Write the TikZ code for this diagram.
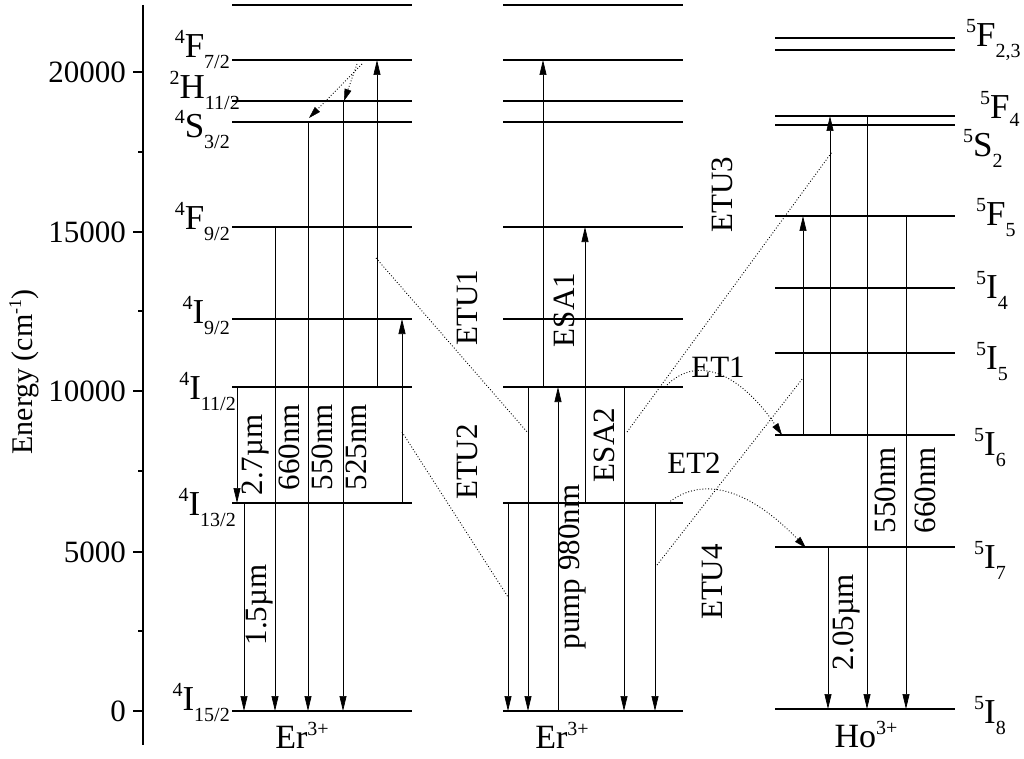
\documentclass[tikz,border=0pt]{standalone}
\usepackage{fontspec}
\setmainfont{Liberation Serif}
\usetikzlibrary{arrows.meta}
\newcommand{\lvl}[3]{{\fontsize{20}{20}\selectfont\raisebox{14pt}{#1}}#2{\fontsize{20}{20}\selectfont\raisebox{-11pt}{#3}}}
\newcommand{\ionl}[2]{{\fontsize{34}{34}\selectfont #1}{\fontsize{20}{20}\selectfont\raisebox{13pt}{#2}}}
\begin{document}
\begin{tikzpicture}[x=1pt,y=-1pt,
  lev/.style={line width=1.3pt},
  tr/.style={line width=0.7pt,-{Triangle[length=15pt,width=7pt]}},
  dt/.style={line width=0.9pt,dotted},
  dta/.style={dt,-{Triangle[length=12pt,width=7pt,line width=0.5pt,fill=black]}},
  lab/.style={font=\fontsize{31}{31}\selectfont,inner sep=0pt},
  rl/.style={lab,rotate=90},
  nm/.style={font=\fontsize{35}{35}\selectfont,inner sep=0pt}]
\useasboundingbox (0,0) rectangle (1024,759);
% axis
\draw[line width=1.3pt] (143,5) -- (143,745);
\foreach \y/\t in {711/0,552/5000,391/10000,232/15000,72/20000}{
  \draw[line width=1.3pt] (133,\y) -- (143,\y);
  \node[lab,anchor=east] at (126,\y) {\t};}
\foreach \y in {631,471,311,152} \draw[line width=1.3pt] (138,\y) -- (143,\y);
\node[lab,rotate=90,font=\fontsize{30}{30}\selectfont] (ax) at (24,372) {Energy (cm\raisebox{11pt}{\fontsize{18}{18}\selectfont -1})};
% levels
\foreach \y in {5,60,101,122,227,319,387,503,711}{
  \draw[lev] (232,\y) -- (412,\y);
  \draw[lev] (503,\y) -- (683,\y);}
\foreach \y in {38,50,116,125,216,288,353,435,547,709}
  \draw[lev] (775,\y) -- (955,\y);
% left labels
\node[nm,anchor=east] at (230,50) {\lvl{4}{F}{7/2}};
\node[nm,anchor=east] at (240,90) {\lvl{2}{H}{11/2}};
\node[nm,anchor=east] at (230,130) {\lvl{4}{S}{3/2}};
\node[nm,anchor=east] at (230,222) {\lvl{4}{F}{9/2}};
\node[nm,anchor=east] at (230,316) {\lvl{4}{I}{9/2}};
\node[nm,anchor=east] at (236,392) {\lvl{4}{I}{11/2}};
\node[nm,anchor=east] at (236,508) {\lvl{4}{I}{13/2}};
\node[nm,anchor=east] at (230,703) {\lvl{4}{I}{15/2}};
% Ho labels
\node[nm,anchor=west] at (966,40) {\lvl{5}{F}{2,3}};
\node[nm,anchor=west] at (980,110) {\lvl{5}{F}{\raisebox{3pt}{4}}};
\node[nm,anchor=west] at (963,148) {\lvl{5}{S}{2}};
\node[nm,anchor=west] at (976,218) {\lvl{5}{F}{5}};
\node[nm,anchor=west] at (976,290) {\lvl{5}{I}{4}};
\node[nm,anchor=west] at (976,362) {\lvl{5}{I}{5}};
\node[nm,anchor=west] at (974,448) {\lvl{5}{I}{6}};
\node[nm,anchor=west] at (974,560) {\lvl{5}{I}{7}};
\node[nm,anchor=west] at (974,716) {\lvl{5}{I}{8}};
% ion labels
\node[inner sep=0pt] (er1) at (302,735) {\ionl{Er}{3+}};
\node[inner sep=0pt] (er2) at (562,735) {\ionl{Er}{3+}};
\node[inner sep=0pt] (ho) at (866,735) {\ionl{Ho}{3+}};
% left transitions
\draw[tr] (237,387) -- (237,503);
\draw[tr] (244,503) -- (244,711);
\draw[tr] (275,227) -- (275,711);
\draw[tr] (308,122) -- (308,711);
\draw[tr] (343,101) -- (343,711);
\draw[tr] (377,387) -- (377,60);
\draw[tr] (402,503) -- (402,319);
\draw[dta] (362,64) -- (309,118);
\draw[dta] (357,64) -- (344,101);
\node[rl] at (256,455) {2.7µm};
\node[rl] at (289,447) {660nm};
\node[rl] at (322,447) {550nm};
\node[rl] at (356,447) {525nm};
\node[rl] at (260,605) {1.5µm};
% middle transitions
\draw[tr] (508,503) -- (508,711);
\draw[tr] (528,387) -- (528,711);
\draw[tr] (558,711) -- (558,387);
\draw[tr] (543,387) -- (543,60);
\draw[tr] (585,503) -- (585,227);
\draw[tr] (624,387) -- (624,711);
\draw[tr] (655,503) -- (655,711);
\node[rl] at (572,567) {pump 980nm};
\node[rl] at (564,310) {ESA1};
\node[rl] at (604,445) {ESA2};
\node[rl] at (467,308) {ETU1};
\node[rl] at (467,462) {ETU2};
\node[rl] at (722,195) {ETU3};
\node[rl] at (712,582) {ETU4};
\node[lab] at (718,367) {ET1};
\node[lab] at (694,463) {ET2};
% Ho transitions
\draw[tr] (803,435) -- (803,216);
\draw[tr] (830,435) -- (830,116);
\draw[tr] (867,116) -- (867,709);
\draw[tr] (906,216) -- (906,709);
\draw[tr] (828,547) -- (828,709);
\node[rl] at (885,490) {550nm};
\node[rl] at (925,490) {660nm};
\node[rl] at (846,622) {2.05µm};
% energy transfer dotted
\draw[dt] (376,258) -- (528,433);
\draw[dt] (402,432) -- (508,597);
\draw[dt] (627,432) -- (832,152);
\draw[dt] (657,565) -- (803,378);
\draw[dta] (665,387) .. controls (700,350) and (745,380) .. (782,435);
\draw[dta] (668,503) .. controls (710,470) and (760,500) .. (806,548);
\end{tikzpicture}
\end{document}
